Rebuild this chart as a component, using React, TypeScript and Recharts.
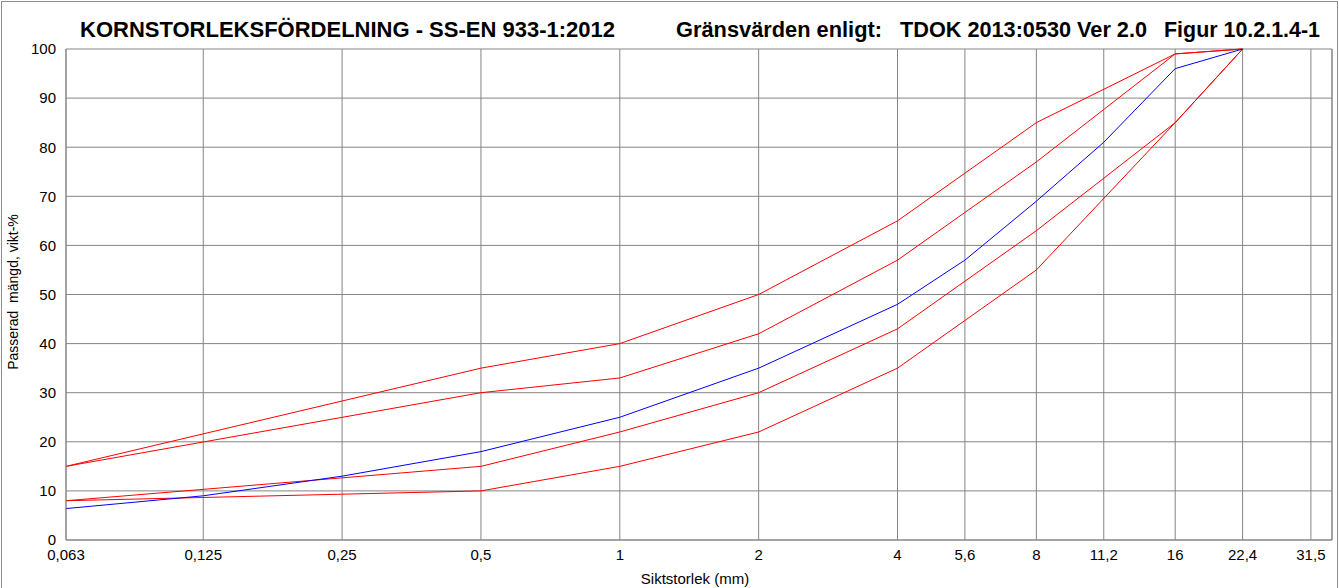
import { LineChart, Line, XAxis, YAxis, CartesianGrid, ReferenceLine } from "recharts";

// Sieve sizes (mm) where the TDOK limit curves are defined
const LIMIT_SIEVES = [0.063, 0.5, 1, 2, 4, 8, 16, 22.4];
const UPPER_OUTER = [15, 35, 40, 50, 65, 85, 99, 100];
const UPPER_INNER = [15, 30, 33, 42, 57, 77, 99, 100];
const LOWER_INNER = [8, 15, 22, 30, 43, 63, 85, 100];
const LOWER_OUTER = [8, 10, 15, 22, 35, 55, 85, 100];

// Measured sample (blue)
const SAMPLE_SIEVES = [0.063, 0.125, 0.25, 0.5, 1, 2, 4, 5.6, 8, 11.2, 16, 22.4];
const SAMPLE = [6.4, 9, 13, 18, 25, 35, 48, 57, 69, 81, 96, 100];

const X_TICKS = [0.063, 0.125, 0.25, 0.5, 1, 2, 4, 5.6, 8, 11.2, 16, 22.4, 31.5];
const Y_TICKS = [0, 10, 20, 30, 40, 50, 60, 70, 80, 90, 100];
const X_MAX = 35;

const FONT = "Arial, 'Liberation Sans', sans-serif";
const GRID = "#858585";

const pts = (xs: number[], ys: number[]) => xs.map((x, i) => ({ x, y: ys[i] }));

const limits = [UPPER_OUTER, UPPER_INNER, LOWER_INNER, LOWER_OUTER];

// header pieces: text, left x, width
const HEADER: [string, number, number][] = [
  ["KORNSTORLEKSFÖRDELNING - SS-EN 933-1:2012", 80, 535],
  ["Gränsvärden enligt:", 676, 206],
  ["TDOK 2013:0530 Ver 2.0", 900, 247],
  ["Figur 10.2.1.4-1", 1164, 156],
];

export default function App() {
  const fmt = (v: number) => String(v).replace(".", ",");
  return (
    <div style={{ position: "absolute", left: 0, top: 0, width: 1339, height: 588, background: "#fff", fontFamily: FONT }}>
      <div style={{ position: "absolute", left: 1, top: 1, width: 1335, height: 600, border: "1px solid #8c8c8c", borderBottom: "none" }} />
      <LineChart width={1339} height={588} margin={{ top: 49, right: 7, left: 16, bottom: 18 }}>
        <CartesianGrid stroke={GRID} strokeWidth={1} />
        <XAxis
          dataKey="x"
          type="number"
          scale="log"
          domain={[0.063, X_MAX]}
          ticks={X_TICKS}
          interval={0}
          tickFormatter={fmt}
          tickLine={false}
          tickSize={0}
          tickMargin={9}
          height={30}
          axisLine={{ stroke: GRID }}
          tick={{ fill: "#000", fontSize: 15, fontFamily: FONT }}
          allowDataOverflow
        />
        <YAxis
          type="number"
          domain={[0, 100]}
          ticks={Y_TICKS}
          interval={0}
          width={50}
          tickLine={false}
          tickSize={0}
          tickMargin={10}
          axisLine={{ stroke: GRID }}
          tick={{ fill: "#000", fontSize: 15, fontFamily: FONT }}
        />
        <ReferenceLine x={X_MAX} stroke={GRID} ifOverflow="visible" />
        {limits.map((ys, i) => (
          <Line
            key={i}
            data={pts(LIMIT_SIEVES, ys)}
            dataKey="y"
            stroke="#ff0000"
            strokeWidth={1}
            dot={false}
            isAnimationActive={false}
          />
        ))}
        <Line
          data={pts(SAMPLE_SIEVES, SAMPLE)}
          dataKey="y"
          stroke="#0000ff"
          strokeWidth={1}
          dot={false}
          isAnimationActive={false}
        />
      </LineChart>
      <svg width={1339} height={48} style={{ position: "absolute", left: 0, top: 0 }}>
        {HEADER.map(([t, x, w]) => (
          <text
            key={t}
            x={x}
            y={37}
            textLength={w}
            lengthAdjust="spacingAndGlyphs"
            fontFamily={FONT}
            fontSize={22}
            fontWeight="bold"
            fill="#000"
          >
            {t}
          </text>
        ))}
      </svg>
      <div style={{ position: "absolute", left: 595, width: 200, textAlign: "center", top: 570, fontSize: 15 }}>
        Siktstorlek (mm)
      </div>
      <div
        style={{
          position: "absolute",
          left: 13,
          top: 292,
          fontSize: 14,
          whiteSpace: "pre",
          transform: "translate(-50%, -50%) rotate(-90deg)",
        }}
      >
        Passerad  mängd, vikt-%
      </div>
    </div>
  );
}
